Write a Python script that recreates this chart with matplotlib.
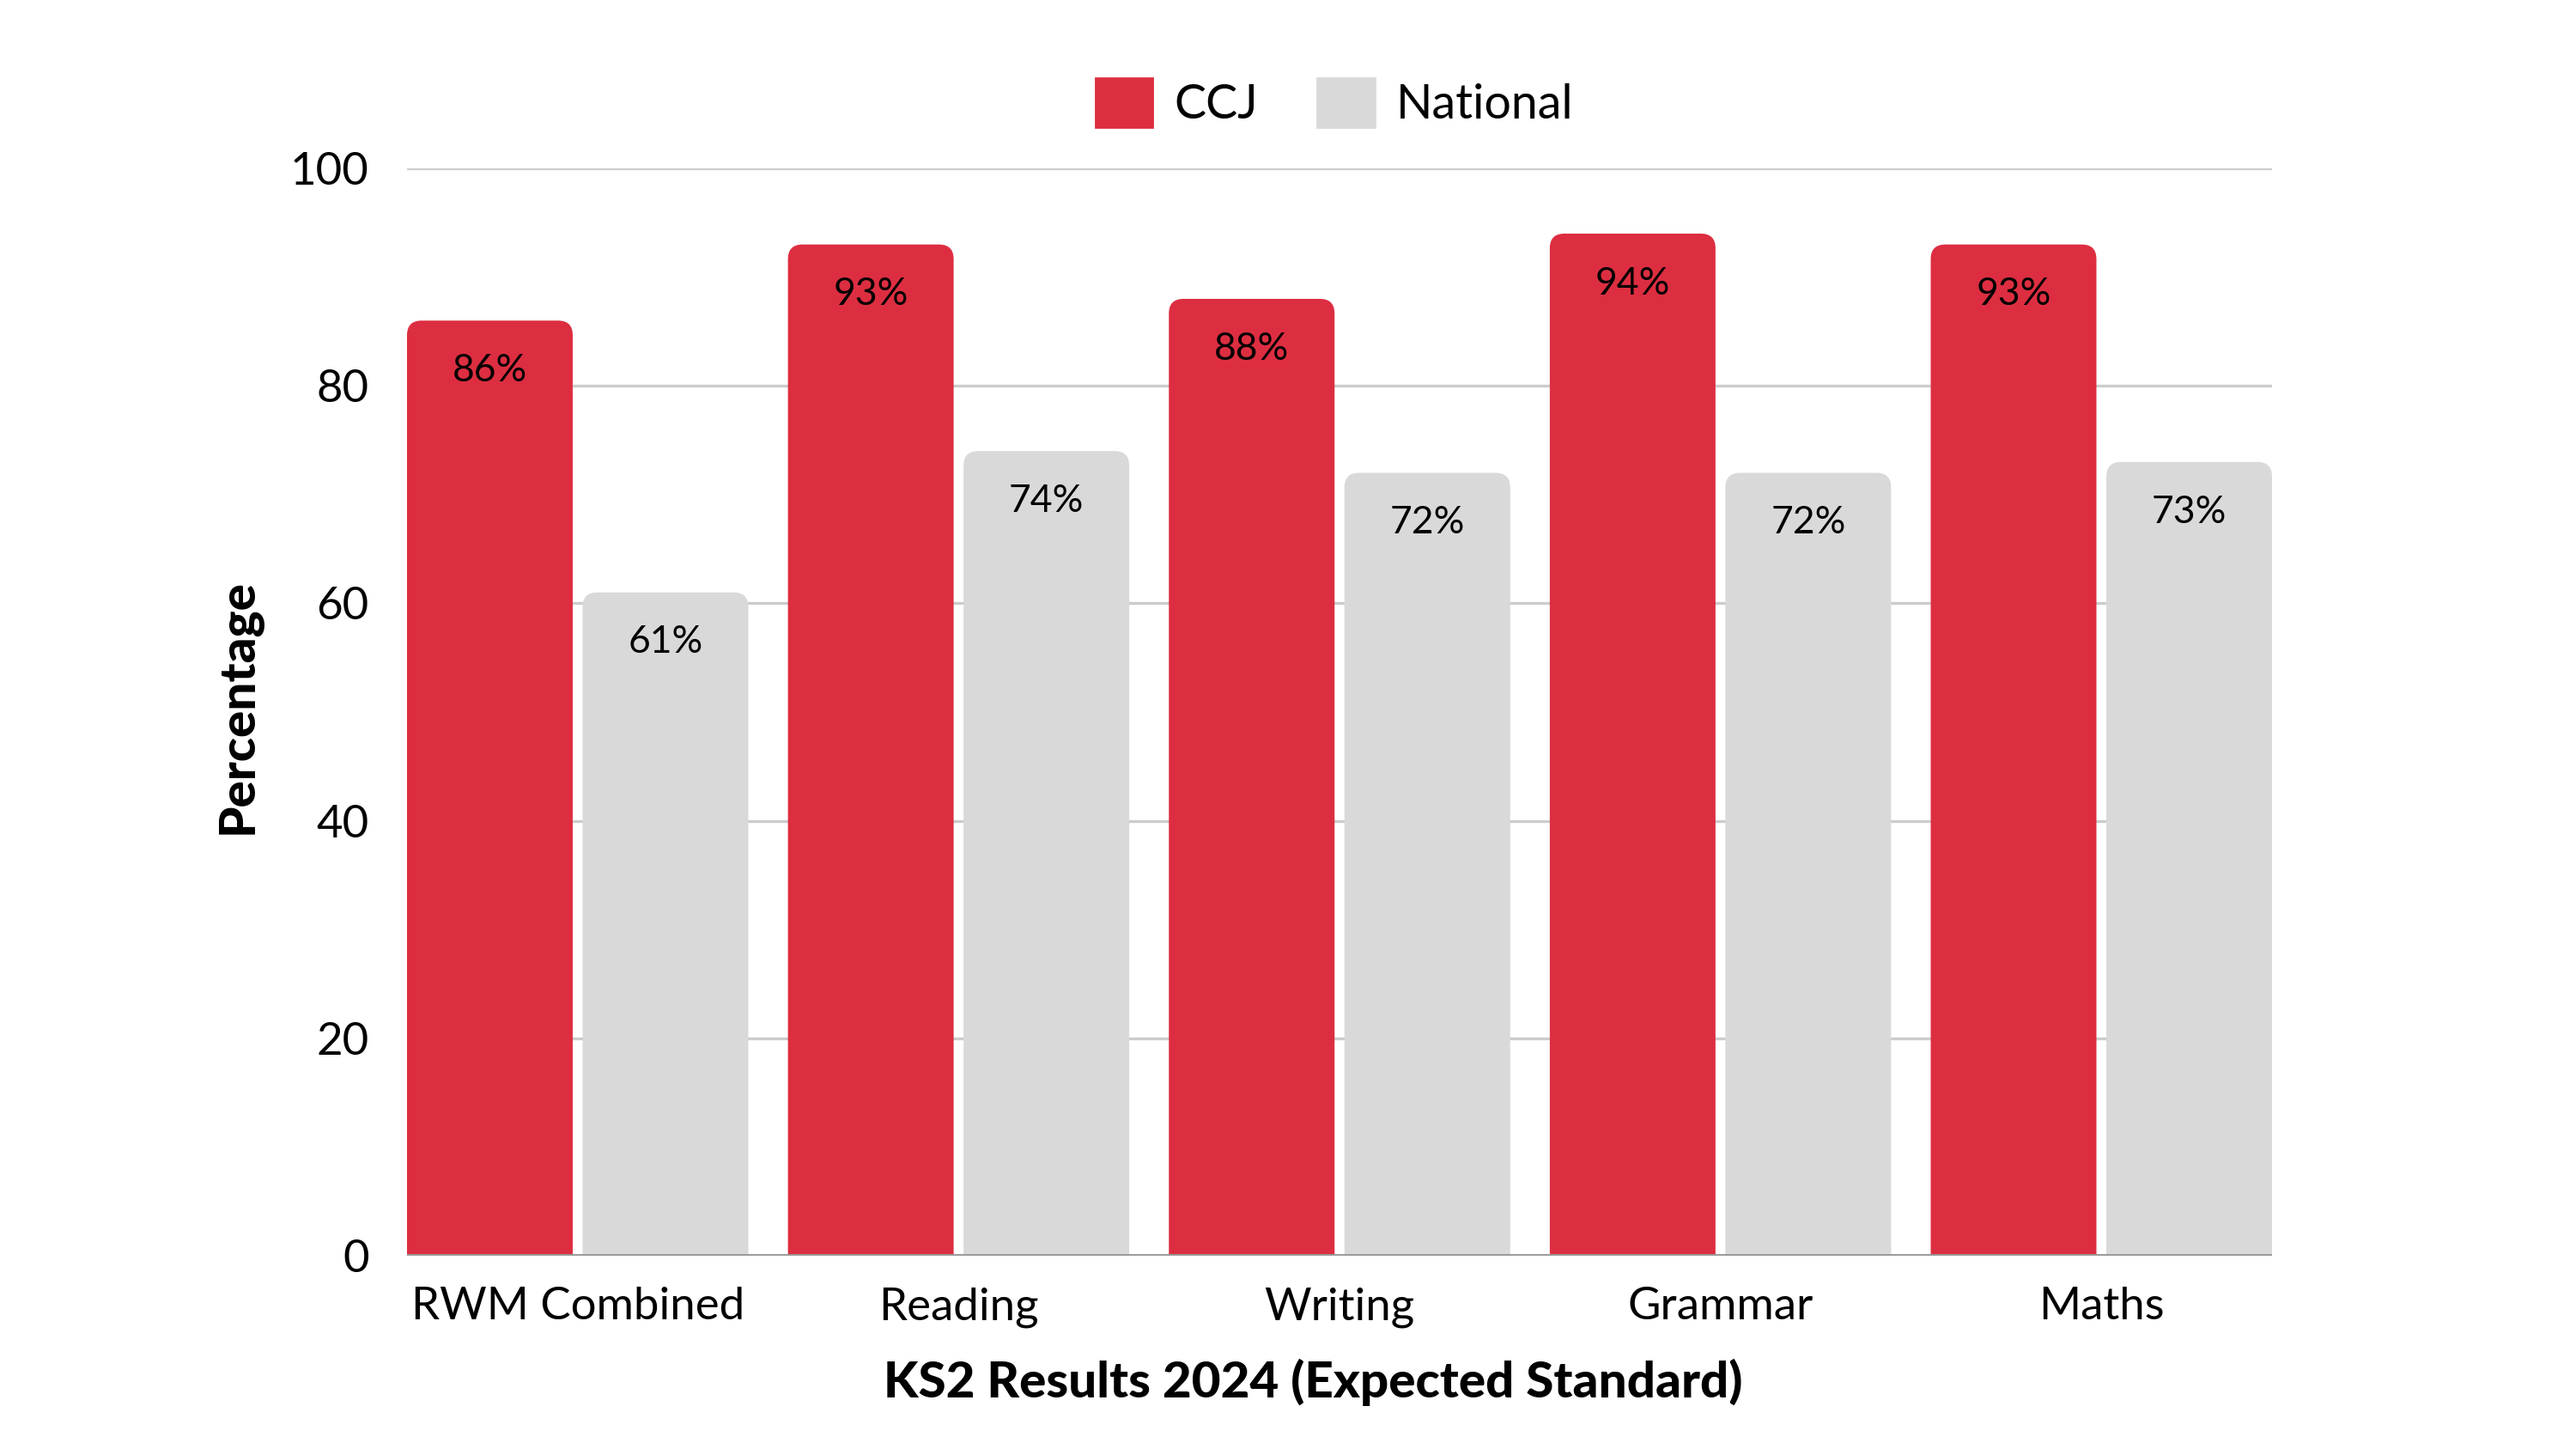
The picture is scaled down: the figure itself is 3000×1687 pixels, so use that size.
import matplotlib.pyplot as plt
from matplotlib.patches import FancyBboxPatch
import numpy as np

plt.rcParams['font.family'] = ['Lato', 'DejaVu Sans']

categories = ["RWM Combined", "Reading", "Writing", "Grammar", "Maths"]
ccj = [86, 93, 88, 94, 93]
national = [61, 74, 72, 72, 73]
series_names = ["CCJ", "National"]
colours = ["#DD2E41", "#D9D9D9"]

fig = plt.figure(figsize=(15, 8.435), dpi=200)
ax = fig.add_axes([0.158, 0.1334, 0.724, 0.7504])

x = np.arange(len(categories))
w = 0.435
gap = 0.026
off = (w + gap) / 2

ax.set_xlim(-off - w / 2, len(categories) - 1 + off + w / 2)
ax.set_ylim(0, 100)

# corner radius in data units (about 17 px on the full image)
ax_w_px = 0.724 * 3000
ax_h_px = 0.7504 * 1687
rx = 17 / (ax_w_px / (ax.get_xlim()[1] - ax.get_xlim()[0]))
ry = 17 / (ax_h_px / 100)

handles = []
for vals, shift, col, name in [(ccj, -off, colours[0], series_names[0]),
                               (national, off, colours[1], series_names[1])]:
    bars = ax.bar(x + shift, vals, width=w, color=col, alpha=0, label=name)
    for b in bars:
        p = FancyBboxPatch((b.get_x(), -10), b.get_width(), b.get_height() + 10,
                           boxstyle=f"round,pad=0,rounding_size={rx}",
                           mutation_aspect=ry / rx, facecolor=col,
                           edgecolor="none", zorder=2)
        ax.add_patch(p)
        ax.text(b.get_x() + b.get_width() / 2, b.get_height() - 4.6,
                f"{b.get_height():.0f}%", ha="center", va="center",
                fontsize=16, color="black", zorder=3)
    handles.append(plt.Rectangle((0, 0), 1, 1, color=col))

ax.set_yticks([0, 20, 40, 60, 80, 100])
ax.yaxis.grid(True, color="#CCCCCC", linewidth=1.2, zorder=0)
ax.set_axisbelow(True)
ax.axhline(0, color="#999999", linewidth=1.4, zorder=4)
for s in ax.spines.values():
    s.set_visible(False)

ax.set_xticks(x)
ax.set_xticklabels(categories)
ax.tick_params(axis="x", length=0, pad=13, labelsize=19)
ax.tick_params(axis="y", length=0, pad=16, labelsize=19)

ax.set_ylabel("Percentage", fontsize=21, fontweight="black")
ax.set_xlabel("KS2 Results 2024 (Expected Standard)", fontsize=21,
              fontweight="black")
ax.xaxis.set_label_coords(0.486, -0.095)
ax.yaxis.set_label_coords(-0.078, 0.505)

fig.legend(handles, series_names, loc="center", bbox_to_anchor=(0.518, 0.929),
           ncol=2, frameon=False, fontsize=20, handlelength=1.2,
           handleheight=1.2, handletextpad=0.45, columnspacing=1.24)

fig.savefig("out.png", dpi=200, facecolor="white")
